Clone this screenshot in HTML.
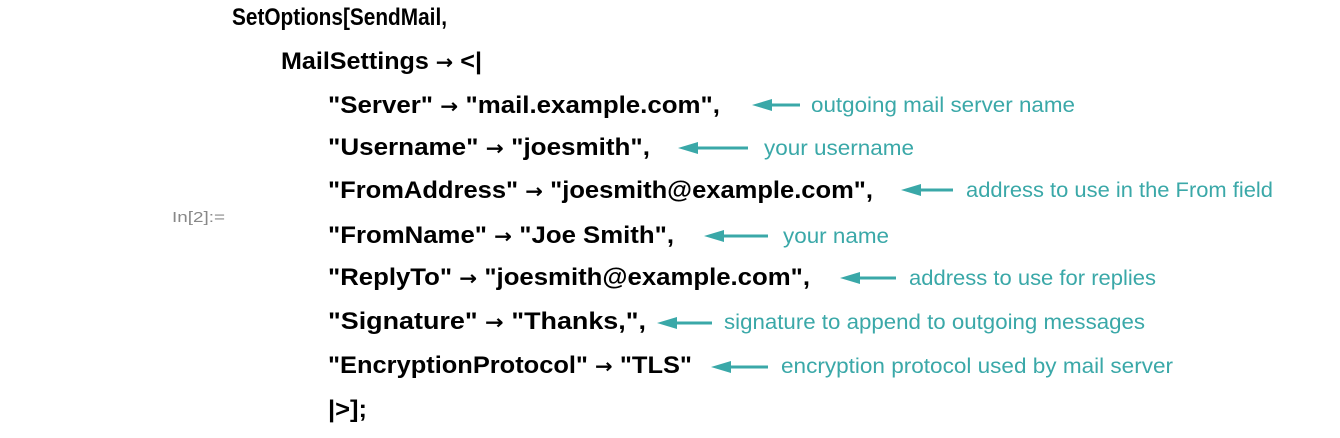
<!DOCTYPE html>
<html><head><meta charset="utf-8"><style>
html,body{margin:0;padding:0;background:#fff;width:1340px;height:438px;overflow:hidden}
svg{display:block}
.c{font-family:"Liberation Sans",sans-serif;font-weight:bold;font-size:24px;fill:#000}
.r{font-family:"DejaVu Sans",sans-serif;font-weight:bold;font-size:20px}
.l{font-family:"Liberation Sans",sans-serif;font-size:21px;fill:#3aa8a8}
.a{stroke:#3aa8a8;stroke-width:3}
.h{fill:#3aa8a8}
</style></head><body>
<svg width="1340" height="438" xmlns="http://www.w3.org/2000/svg">
<text x="172" y="222" font-family="Liberation Sans,sans-serif" font-size="15" fill="#888" textLength="53" lengthAdjust="spacingAndGlyphs">In[2]:=</text>
<text class="c" x="232" y="25" textLength="215" lengthAdjust="spacingAndGlyphs">SetOptions[SendMail,</text>
<text class="c" x="281" y="69" textLength="201" lengthAdjust="spacingAndGlyphs">MailSettings <tspan class="r">→</tspan> &lt;|</text>
<text class="c" x="328" y="113" textLength="392" lengthAdjust="spacingAndGlyphs">"Server" <tspan class="r">→</tspan> "mail.example.com",</text>
<text class="c" x="328" y="155" textLength="322" lengthAdjust="spacingAndGlyphs">"Username" <tspan class="r">→</tspan> "joesmith",</text>
<text class="c" x="328" y="198" textLength="545" lengthAdjust="spacingAndGlyphs">"FromAddress" <tspan class="r">→</tspan> "joesmith@example.com",</text>
<text class="c" x="328" y="243" textLength="346" lengthAdjust="spacingAndGlyphs">"FromName" <tspan class="r">→</tspan> "Joe Smith",</text>
<text class="c" x="328" y="285" textLength="482" lengthAdjust="spacingAndGlyphs">"ReplyTo" <tspan class="r">→</tspan> "joesmith@example.com",</text>
<text class="c" x="328" y="329" textLength="318" lengthAdjust="spacingAndGlyphs">"Signature" <tspan class="r">→</tspan> "Thanks,",</text>
<text class="c" x="328" y="373" textLength="364" lengthAdjust="spacingAndGlyphs">"EncryptionProtocol" <tspan class="r">→</tspan> "TLS"</text>
<text class="c" x="328" y="417" textLength="39" lengthAdjust="spacingAndGlyphs">|&gt;];</text>

<g>
<line class="a" x1="768" y1="105" x2="800" y2="105"/><polygon class="h" points="752,105 772,99 772,111"/>
<text class="l" x="811" y="112" textLength="264" lengthAdjust="spacingAndGlyphs">outgoing mail server name</text>
<line class="a" x1="694" y1="148" x2="748" y2="148"/><polygon class="h" points="678,148 698,142 698,154"/>
<text class="l" x="764" y="155" textLength="150" lengthAdjust="spacingAndGlyphs">your username</text>
<line class="a" x1="917" y1="190" x2="953" y2="190"/><polygon class="h" points="901,190 921,184 921,196"/>
<text class="l" x="966" y="197" textLength="307" lengthAdjust="spacingAndGlyphs">address to use in the From field</text>
<line class="a" x1="720" y1="236" x2="768" y2="236"/><polygon class="h" points="704,236 724,230 724,242"/>
<text class="l" x="783" y="243" textLength="106" lengthAdjust="spacingAndGlyphs">your name</text>
<line class="a" x1="856" y1="278" x2="896" y2="278"/><polygon class="h" points="840,278 860,272 860,284"/>
<text class="l" x="909" y="285" textLength="247" lengthAdjust="spacingAndGlyphs">address to use for replies</text>
<line class="a" x1="673" y1="323" x2="712" y2="323"/><polygon class="h" points="657,323 677,317 677,329"/>
<text class="l" x="724" y="329" textLength="421" lengthAdjust="spacingAndGlyphs">signature to append to outgoing messages</text>
<line class="a" x1="727" y1="367" x2="768" y2="367"/><polygon class="h" points="711,367 731,361 731,373"/>
<text class="l" x="781" y="373" textLength="392" lengthAdjust="spacingAndGlyphs">encryption protocol used by mail server</text>
</g>
</svg>
</body></html>
